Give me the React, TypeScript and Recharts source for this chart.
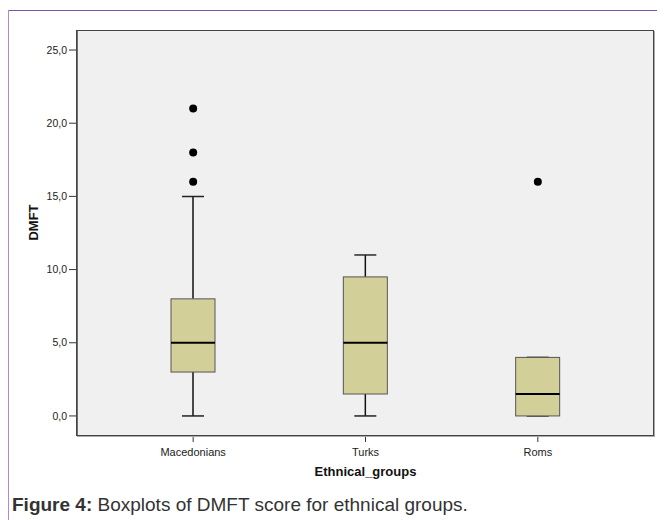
import React from "react";
import {
  ComposedChart,
  Bar,
  Scatter,
  XAxis,
  YAxis,
  CartesianGrid,
} from "recharts";

// DMFT box statistics
const groups = ["Macedonians", "Turks", "Roms"];
const mins = [0, 0, 0];
const q1s = [3, 1.5, 0];
const medians = [5, 5, 1.5];
const q3s = [8, 9.5, 4];
const maxs = [15, 11, 4];
const outliers = [[21, 18, 16], [], [16]];
const yTicks = [0, 5, 10, 15, 20, 25];
const yDomain = [-1.37, 26.3];

const rows = groups.map((g, i) => ({
  group: g,
  min: mins[i],
  q1: q1s[i],
  median: medians[i],
  q3: q3s[i],
  max: maxs[i],
  out0: outliers[i][0] ?? null,
  out1: outliers[i][1] ?? null,
  out2: outliers[i][2] ?? null,
}));

const BOX_FILL = "#d3cf98";
const FONT = "Arial, 'Liberation Sans', sans-serif";

const W = 657;
const H = 480;
const M = { top: 23, right: 11, bottom: 2, left: 0 };
const Y_AXIS_W = 69;
const X_AXIS_H = 50;

// draws whiskers + box from the range bar [min, max] that recharts positions
const BoxShape = (props: any) => {
  const { x, y, width, height, payload } = props;
  if (payload == null) return null;
  const { min, q1, median, q3, max } = payload;
  const span = max - min || 1;
  const k = height / span;
  const py = (v: number) => y + (max - v) * k;
  const cx = x + width / 2;
  const cap = 11;
  return (
    <g>
      <line x1={cx} x2={cx} y1={py(max)} y2={py(q3)} stroke="#111" strokeWidth={1.5} />
      <line x1={cx} x2={cx} y1={py(q1)} y2={py(min)} stroke="#111" strokeWidth={1.5} />
      <line x1={cx - cap} x2={cx + cap} y1={py(max)} y2={py(max)} stroke="#222" strokeWidth={1.5} />
      <line x1={cx - cap} x2={cx + cap} y1={py(min)} y2={py(min)} stroke="#222" strokeWidth={1.5} />
      <rect
        x={x}
        y={py(q3)}
        width={width}
        height={py(q1) - py(q3)}
        fill={BOX_FILL}
        stroke="#555"
        strokeWidth={1}
      />
      <line x1={x} x2={x + width} y1={py(median)} y2={py(median)} stroke="#000" strokeWidth={2} />
    </g>
  );
};

const Dot = (props: any) => {
  const { cx, cy } = props;
  if (cx == null || cy == null) return null;
  return <circle cx={cx} cy={cy} r={4} fill="#000" />;
};

const YLabel = (props: any) => {
  const vb = props.viewBox || {};
  const x = vb.x + 25;
  const y = vb.y + vb.height / 2 - 11;
  return (
    <text
      x={x}
      y={y}
      transform={`rotate(-90 ${x} ${y})`}
      textAnchor="middle"
      dominantBaseline="central"
      style={{ fontSize: 13, fontWeight: "bold", fill: "#111", fontFamily: FONT }}
    >
      DMFT
    </text>
  );
};

const App: React.FC = () => (
  <div style={{ position: "relative", width: W, height: 512, fontFamily: FONT }}>
    <div style={{ position: "absolute", left: 0, top: 2, right: 0, height: 1, background: "#7a55b0" }} />
    <div style={{ position: "absolute", left: 0, top: 2, bottom: 0, width: 1, background: "#a98bd2" }} />
    <div style={{ position: "absolute", left: 0, top: 0 }}>
      <ComposedChart width={W} height={H} data={rows} margin={M}>
        <CartesianGrid fill="#f0f0f0" horizontal={false} vertical={false} />
        <XAxis
          dataKey="group"
          type="category"
          height={X_AXIS_H}
          padding={{ left: 30, right: 30 }}
          tickLine={{ stroke: "#333" }}
          tickSize={6}
          tickMargin={6}
          axisLine={{ stroke: "#444", strokeWidth: 1.5 }}
          tick={{ fontSize: 11, fill: "#222", fontFamily: FONT }}
          label={{
            value: "Ethnical_groups",
            position: "insideBottom",
            offset: 10,
            style: { fontSize: 13, fontWeight: "bold", fill: "#111", fontFamily: FONT },
          }}
        />
        <YAxis
          type="number"
          domain={yDomain}
          ticks={yTicks}
          allowDataOverflow
          width={Y_AXIS_W}
          tickSize={8}
          tickLine={{ stroke: "#333" }}
          axisLine={{ stroke: "#444", strokeWidth: 1.5 }}
          tick={{ fontSize: 10.5, fill: "#222", fontFamily: FONT }}
          tickFormatter={(v: number) => v.toFixed(1).replace(".", ",")}
          label={<YLabel />}
        />
        <Bar
          dataKey={(d: any) => [d.min, d.max]}
          barSize={44}
          shape={BoxShape}
          isAnimationActive={false}
        />
        <Scatter dataKey="out0" shape={Dot} isAnimationActive={false} />
        <Scatter dataKey="out1" shape={Dot} isAnimationActive={false} />
        <Scatter dataKey="out2" shape={Dot} isAnimationActive={false} />
      </ComposedChart>
    </div>
    {/* plot frame, SPSS style with a faint shadow */}
    <div
      style={{
        position: "absolute",
        left: M.left + Y_AXIS_W - 1,
        top: M.top - 1,
        width: W - M.left - M.right - Y_AXIS_W + 1,
        height: H - M.top - M.bottom - X_AXIS_H + 1,
        boxSizing: "border-box",
        border: "1.5px solid #444",
        boxShadow: "1px 1px 0 #aaa",
        pointerEvents: "none",
      }}
    />
    <div
      style={{
        position: "absolute",
        left: 4,
        top: 486,
        fontSize: 19,
        lineHeight: "22px",
        color: "#333",
        whiteSpace: "nowrap",
      }}
    >
      <b>Figure 4:</b> Boxplots of DMFT score for ethnical groups.
    </div>
  </div>
);

export default App;
